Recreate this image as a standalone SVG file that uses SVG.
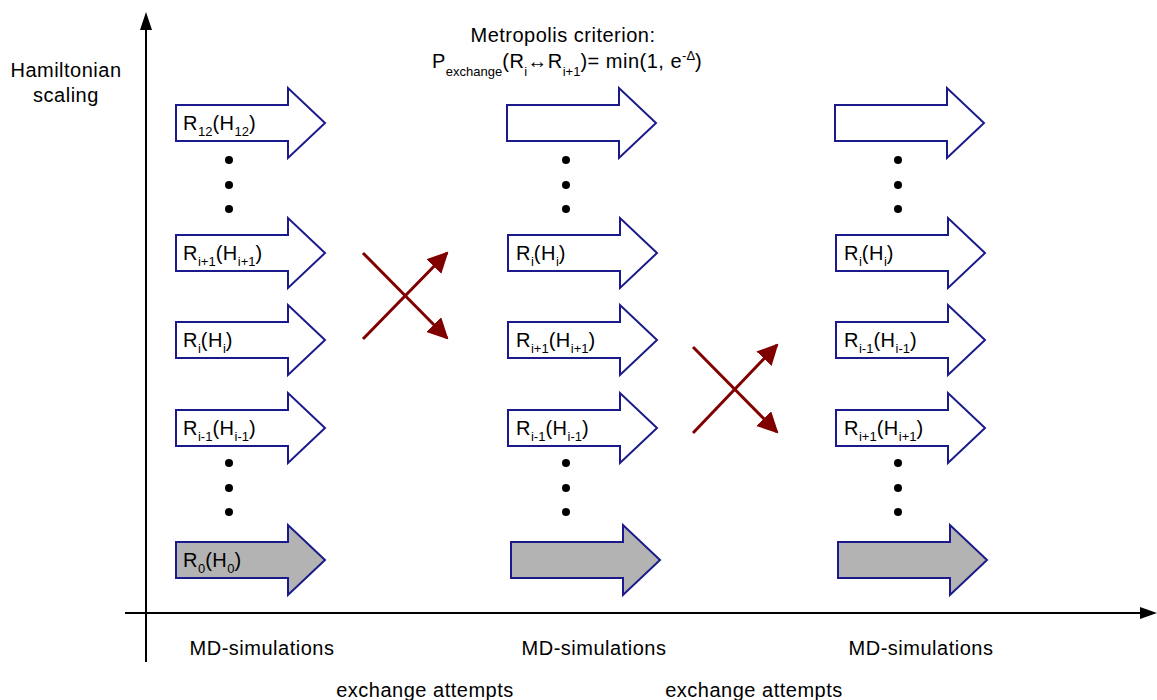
<svg xmlns="http://www.w3.org/2000/svg" width="1157" height="700" viewBox="0 0 1157 700">
<defs>
<style>
text{font-family:"Liberation Sans",Arial,sans-serif;fill:#000;letter-spacing:0.5px}
.lbl{font-size:20px}
.sub{font-size:13px;letter-spacing:0}
.ttl{font-size:20px}
.ax{stroke:#000;stroke-width:2;fill:none}
.arr{stroke:#1a1a8c;stroke-width:2;fill:#fff;stroke-linejoin:miter}
.g{fill:#b3b3b3}
.x{stroke:#800000;stroke-width:3;fill:none}
.dot{fill:#000}
</style>
<marker id="rh" viewBox="0 0 10 10" refX="9" refY="5" markerWidth="7" markerHeight="7" orient="auto"><path d="M0,0 L10,5 L0,10 Z" fill="#800000"/></marker>
<path id="blk" d="M0,-18 H112 V-35 L149,0 L112,35 V18 H0 Z"/>
</defs>
<g id="axes">
<line class="ax" x1="146" y1="662" x2="146" y2="28"/>
<path d="M146,12 L140,30 L152,30 Z" fill="#000"/>
<line class="ax" x1="125" y1="613" x2="1145" y2="613"/>
<path d="M1157,613 L1140,607 L1140,619 Z" fill="#000"/>
</g>
<text class="ttl" x="66" y="77" text-anchor="middle">Hamiltonian</text>
<text class="ttl" x="66" y="102" text-anchor="middle">scaling</text>
<text class="ttl" x="563" y="42" text-anchor="middle">Metropolis criterion:</text>
<text class="ttl" x="432" y="68">P<tspan class="sub" dy="8">exchange</tspan><tspan dy="-8">(R</tspan><tspan class="sub" dy="8">i</tspan><tspan dy="-8">↔R</tspan><tspan class="sub" dy="8">i+1</tspan><tspan dy="-8">)= min(1, e</tspan><tspan class="sub" dy="-8">-Δ</tspan><tspan dy="8">)</tspan></text>
<g id="col1">
<g id="c1r12"><use href="#blk" class="arr" x="176" y="123"/><text class="lbl" x="183" y="130">R<tspan class="sub" dy="6">12</tspan><tspan dy="-6">(H</tspan><tspan class="sub" dy="6">12</tspan><tspan dy="-6">)</tspan></text></g>
<g id="c1ri1"><use href="#blk" class="arr" x="176" y="253"/><text class="lbl" x="183" y="260">R<tspan class="sub" dy="6">i+1</tspan><tspan dy="-6">(H</tspan><tspan class="sub" dy="6">i+1</tspan><tspan dy="-6">)</tspan></text></g>
<g id="c1ri"><use href="#blk" class="arr" x="176" y="340"/><text class="lbl" x="183" y="347">R<tspan class="sub" dy="6">i</tspan><tspan dy="-6">(H</tspan><tspan class="sub" dy="6">i</tspan><tspan dy="-6">)</tspan></text></g>
<g id="c1rim1"><use href="#blk" class="arr" x="176" y="428"/><text class="lbl" x="183" y="435">R<tspan class="sub" dy="6">i-1</tspan><tspan dy="-6">(H</tspan><tspan class="sub" dy="6">i-1</tspan><tspan dy="-6">)</tspan></text></g>
<g id="c1r0"><use href="#blk" class="arr g" x="176" y="560"/><text class="lbl" x="183" y="567">R<tspan class="sub" dy="6">0</tspan><tspan dy="-6">(H</tspan><tspan class="sub" dy="6">0</tspan><tspan dy="-6">)</tspan></text></g>
<circle class="dot" cx="229" cy="160" r="4"/><circle class="dot" cx="229" cy="185" r="4"/><circle class="dot" cx="229" cy="209" r="4"/>
<circle class="dot" cx="229" cy="463" r="4"/><circle class="dot" cx="229" cy="488" r="4"/><circle class="dot" cx="229" cy="512" r="4"/>
</g>
<g id="col2">
<g id="c2top"><use href="#blk" class="arr" x="507" y="123"/></g>
<g id="c2ri"><use href="#blk" class="arr" x="508" y="253"/><text class="lbl" x="516" y="260">R<tspan class="sub" dy="6">i</tspan><tspan dy="-6">(H</tspan><tspan class="sub" dy="6">i</tspan><tspan dy="-6">)</tspan></text></g>
<g id="c2ri1"><use href="#blk" class="arr" x="508" y="340"/><text class="lbl" x="516" y="347">R<tspan class="sub" dy="6">i+1</tspan><tspan dy="-6">(H</tspan><tspan class="sub" dy="6">i+1</tspan><tspan dy="-6">)</tspan></text></g>
<g id="c2rim1"><use href="#blk" class="arr" x="508" y="428"/><text class="lbl" x="516" y="435">R<tspan class="sub" dy="6">i-1</tspan><tspan dy="-6">(H</tspan><tspan class="sub" dy="6">i-1</tspan><tspan dy="-6">)</tspan></text></g>
<g id="c2r0"><use href="#blk" class="arr g" x="511" y="560"/></g>
<circle class="dot" cx="566" cy="160" r="4"/><circle class="dot" cx="566" cy="185" r="4"/><circle class="dot" cx="566" cy="209" r="4"/>
<circle class="dot" cx="566" cy="463" r="4"/><circle class="dot" cx="566" cy="488" r="4"/><circle class="dot" cx="566" cy="512" r="4"/>
</g>
<g id="col3">
<g id="c3top"><use href="#blk" class="arr" x="835" y="123"/></g>
<g id="c3ri"><use href="#blk" class="arr" x="836" y="253"/><text class="lbl" x="844" y="260">R<tspan class="sub" dy="6">i</tspan><tspan dy="-6">(H</tspan><tspan class="sub" dy="6">i</tspan><tspan dy="-6">)</tspan></text></g>
<g id="c3rim1"><use href="#blk" class="arr" x="836" y="340"/><text class="lbl" x="844" y="347">R<tspan class="sub" dy="6">i-1</tspan><tspan dy="-6">(H</tspan><tspan class="sub" dy="6">i-1</tspan><tspan dy="-6">)</tspan></text></g>
<g id="c3ri1"><use href="#blk" class="arr" x="836" y="428"/><text class="lbl" x="844" y="435">R<tspan class="sub" dy="6">i+1</tspan><tspan dy="-6">(H</tspan><tspan class="sub" dy="6">i+1</tspan><tspan dy="-6">)</tspan></text></g>
<g id="c3r0"><use href="#blk" class="arr g" x="838" y="560"/></g>
<circle class="dot" cx="898" cy="160" r="4"/><circle class="dot" cx="898" cy="185" r="4"/><circle class="dot" cx="898" cy="209" r="4"/>
<circle class="dot" cx="898" cy="463" r="4"/><circle class="dot" cx="898" cy="488" r="4"/><circle class="dot" cx="898" cy="512" r="4"/>
</g>
<g id="connectors">
<line class="x" x1="363" y1="253" x2="447" y2="338" marker-end="url(#rh)"/>
<line class="x" x1="363" y1="339" x2="447" y2="253" marker-end="url(#rh)"/>
<line class="x" x1="693" y1="347" x2="777" y2="432" marker-end="url(#rh)"/>
<line class="x" x1="693" y1="433" x2="777" y2="345" marker-end="url(#rh)"/>
</g>
<text class="ttl" x="262" y="655" text-anchor="middle">MD-simulations</text>
<text class="ttl" x="594" y="655" text-anchor="middle">MD-simulations</text>
<text class="ttl" x="921" y="655" text-anchor="middle">MD-simulations</text>
<text class="ttl" x="425" y="697" text-anchor="middle">exchange attempts</text>
<text class="ttl" x="754" y="697" text-anchor="middle">exchange attempts</text>
</svg>
